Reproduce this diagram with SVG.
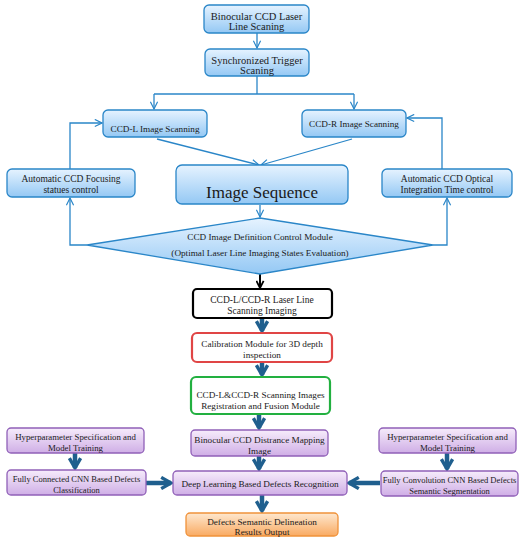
<svg xmlns="http://www.w3.org/2000/svg" width="528" height="550" viewBox="0 0 528 550">
<defs>
<linearGradient id="gb" x1="0" y1="0" x2="0" y2="1"><stop offset="0" stop-color="#e6f3ff"/><stop offset="1" stop-color="#94c8f4"/></linearGradient>
<linearGradient id="gp" x1="0" y1="0" x2="0" y2="1"><stop offset="0" stop-color="#f6ecfb"/><stop offset="1" stop-color="#cfaee6"/></linearGradient>
<linearGradient id="go" x1="0" y1="0" x2="0" y2="1"><stop offset="0" stop-color="#fee8cf"/><stop offset="1" stop-color="#f9aa62"/></linearGradient>
<marker id="mo" viewBox="0 0 10 10" refX="9" refY="5" markerWidth="9" markerHeight="9" markerUnits="userSpaceOnUse" orient="auto"><path d="M1,1 L9,5 L1,9" fill="none" stroke="#2a86c8" stroke-width="1.3"/></marker>
<marker id="mk" viewBox="0 0 10 10" refX="9" refY="5" markerWidth="9" markerHeight="9" markerUnits="userSpaceOnUse" orient="auto"><path d="M1,1 L9,5 L1,9" fill="none" stroke="#000" stroke-width="2"/></marker>
<marker id="mt" viewBox="0 0 10 10" refX="8" refY="5" markerWidth="14" markerHeight="14" markerUnits="userSpaceOnUse" orient="auto"><path d="M1,1 L8,5 L1,9" fill="none" stroke="#1f5f8e" stroke-width="2.4" stroke-linejoin="miter"/></marker>
</defs>
<style>
text{font-family:"Liberation Serif","Times New Roman",serif;font-size:9.2px;fill:#1a1a1a;text-anchor:middle}
.l{font-size:10.5px}
.m{font-size:9.5px}
.s{font-size:8.8px}
.x{font-size:8.5px}
.b{fill:url(#gb);stroke:#2a86c8;stroke-width:1.3}
.p{fill:url(#gp);stroke:#9060b8;stroke-width:1.3}
.o{fill:url(#go);stroke:#f0923a;stroke-width:1.3}
.w{fill:#fff;stroke-width:2.2}
.c{fill:none;stroke:#2a86c8;stroke-width:1.3}
.t{fill:none;stroke:#1f5f8e;stroke-width:4.5}
</style>
<g id="connectors">
<line class="c" x1="257" y1="33" x2="257" y2="48" marker-end="url(#mo)"/>
<polyline class="c" points="257,76 257,94"/>
<polyline class="c" points="154,94 354,94"/>
<line class="c" x1="154" y1="94" x2="154" y2="109" marker-end="url(#mo)"/>
<line class="c" x1="354" y1="94" x2="354" y2="109" marker-end="url(#mo)"/>
<line class="c" x1="157" y1="139" x2="259" y2="165" marker-end="url(#mo)"/>
<line class="c" x1="352" y1="139" x2="261" y2="165" marker-end="url(#mo)"/>
<polyline class="c" points="70,169 70,123 102,123" marker-end="url(#mo)"/>
<polyline class="c" points="442,169 442,118 407,118" marker-end="url(#mo)"/>
<line class="c" x1="260" y1="205" x2="260" y2="217" marker-end="url(#mo)"/>
<polyline class="c" points="87,245 70,245 70,198" marker-end="url(#mo)"/>
<polyline class="c" points="433,245 447,245 447,198" marker-end="url(#mo)"/>
<line x1="260" y1="274" x2="260" y2="288" stroke="#000" stroke-width="2" marker-end="url(#mk)"/>
<line class="t" x1="262" y1="318" x2="262" y2="331" marker-end="url(#mt)"/>
<line class="t" x1="262" y1="362" x2="262" y2="375" marker-end="url(#mt)"/>
<line class="t" x1="259" y1="414" x2="259" y2="428" marker-end="url(#mt)"/>
<line class="t" x1="259" y1="456" x2="259" y2="469" marker-end="url(#mt)"/>
<line class="t" x1="75" y1="453" x2="75" y2="468" marker-end="url(#mt)"/>
<line class="t" x1="447" y1="453" x2="447" y2="469" marker-end="url(#mt)"/>
<line class="t" x1="146" y1="483" x2="171" y2="483" marker-end="url(#mt)"/>
<line class="t" x1="380" y1="483" x2="349" y2="483" marker-end="url(#mt)"/>
<line class="t" x1="262" y1="495" x2="262" y2="511" marker-end="url(#mt)"/>
</g>
<g id="n1"><rect class="b" x="204" y="5" width="105" height="28" rx="5"/><text class="l" x="256.5" y="19.5">Binocular CCD Laser</text><text class="l" x="256.5" y="30">Line Scaning</text></g>
<g id="n2"><rect class="b" x="205" y="49" width="104" height="27" rx="5"/><text class="l" x="257" y="64">Synchronized Trigger</text><text class="l" x="257" y="74">Scaning</text></g>
<g id="n3"><rect class="b" x="103" y="110" width="104" height="27" rx="5"/><text x="155" y="132">CCD-L Image Scanning</text></g>
<g id="n4"><rect class="b" x="302" y="110" width="104" height="27" rx="5"/><text x="354" y="127">CCD-R Image Scanning</text></g>
<g id="n5"><rect class="b" x="7" y="169" width="128" height="28" rx="5"/><text class="m" x="71" y="182">Automatic CCD Focusing</text><text class="m" x="71" y="193">statues control</text></g>
<g id="n6"><rect class="b" x="382" y="169" width="130" height="28" rx="5"/><text class="m" x="447" y="182">Automatic CCD Optical</text><text class="m" x="447" y="193">Integration Time control</text></g>
<g id="n7"><rect class="b" x="176" y="165" width="172" height="39" rx="6"/><text x="262" y="198" style="font-size:17px">Image Sequence</text></g>
<g id="n8"><polygon class="b" points="87,245 260,218 433,245 260,274"/><text x="260" y="240">CCD Image Definition Control Module</text><text x="260" y="256">(Optimal Laser Line Imaging States Evaluation)</text></g>
<g id="n9"><rect class="w" x="193" y="289" width="139" height="29" rx="4" stroke="#000"/><text class="m" x="262" y="303">CCD-L/CCD-R Laser Line</text><text class="m" x="262" y="314">Scanning Imaging</text></g>
<g id="n10"><rect class="w" x="192" y="333" width="140" height="29" rx="5" stroke="#e04545" stroke-width="1.6"/><text x="262" y="347">Calibration Module for 3D depth</text><text x="262" y="358">inspection</text></g>
<g id="n11"><rect class="w" x="191" y="377" width="139" height="37" rx="5" stroke="#22b040"/><text x="260.5" y="398">CCD-L&amp;CCD-R Scanning Images</text><text x="260.5" y="409">Registration and Fusion Module</text></g>
<g id="n12"><rect class="p" x="191" y="430" width="137" height="26" rx="4"/><text x="259.5" y="443">Binocular CCD Distrance Mapping</text><text x="259.5" y="454">Image</text></g>
<g id="n13"><rect class="p" x="7" y="428" width="137" height="25" rx="4"/><text class="s" x="75.5" y="440">Hyperparameter Specification and</text><text class="s" x="75.5" y="451">Model Training</text></g>
<g id="n14"><rect class="p" x="379" y="428" width="137" height="25" rx="4"/><text class="s" x="447.5" y="440">Hyperparameter Specification and</text><text class="s" x="447.5" y="451">Model Training</text></g>
<g id="n15"><rect class="p" x="7" y="470" width="139" height="25" rx="4"/><text class="x" x="76.5" y="482">Fully Connected CNN Based Defects</text><text class="x" x="76.5" y="493">Classification</text></g>
<g id="n16"><rect class="p" x="381" y="471" width="137" height="25" rx="4"/><text class="x" x="449.5" y="483">Fully Convolution CNN Based Defects</text><text class="x" x="449.5" y="494">Semantic Segmentation</text></g>
<g id="n17"><rect class="p" x="173" y="471" width="174" height="24" rx="4"/><text x="260" y="487">Deep Learning Based Defects Recognition</text></g>
<g id="n18"><rect class="o" x="186" y="513" width="152" height="23" rx="4"/><text x="262" y="525">Defects Semantic Delineation</text><text x="262" y="535">Results Output</text></g>
</svg>
